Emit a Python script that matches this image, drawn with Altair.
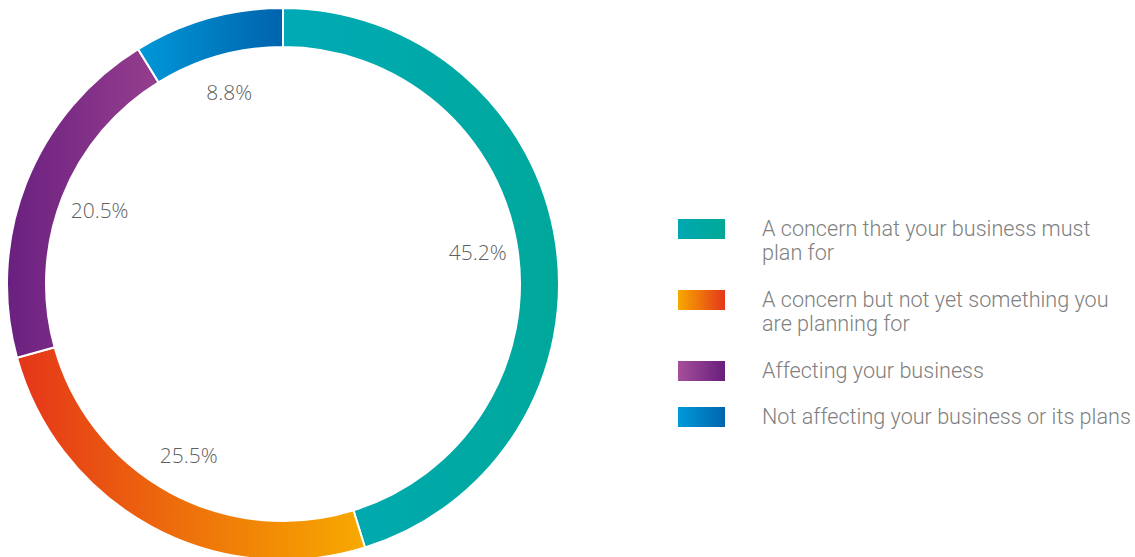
import altair as alt
import pandas as pd
import numpy as np

categories = [
    "A concern that your business must plan for",
    "A concern but not yet something you are planning for",
    "Affecting your business",
    "Not affecting your business or its plans",
]
legend_labels = [
    "A concern that your business must\nplan for",
    "A concern but not yet something you\nare planning for",
    "Affecting your business",
    "Not affecting your business or its plans",
]
values = [45.2, 25.5, 20.5, 8.8]
value_labels = ["45.2%", "25.5%", "20.5%", "8.8%"]

ring_gradients = [
    [("#00AAB6", 0), ("#00A89B", 1)],
    [("#E5351A", 0), ("#EE720A", 0.5), ("#F7AA00", 1)],
    [("#6A2080", 0), ("#963E8E", 1)],
    [("#0098D8", 0), ("#0063AD", 1)],
]
legend_gradients = [
    [("#00A8B2", 0), ("#00A896", 1)],
    [("#F7A900", 0), ("#E5361A", 1)],
    [("#A64F9B", 0), ("#681E7C", 1)],
    [("#0099D9", 0), ("#0065AE", 1)],
]


def grad(stops):
    return {
        "gradient": "linear", "x1": 0, "y1": 0, "x2": 1, "y2": 0,
        "stops": [{"offset": o, "color": c} for c, o in stops],
    }


v = np.array(values)
v1 = np.cumsum(v)
v0 = v1 - v
nlines = [len(s.split("\n")) for s in legend_labels]
extra_before = np.concatenate([[0], np.cumsum([n - 1 for n in nlines])[:-1]])
ROW0, ROW_GAP, LINE_H = 219, 46, 25
row_top = [ROW0 + ROW_GAP * i + LINE_H * e for i, e in enumerate(extra_before)]

df = pd.DataFrame({
    "category": categories,
    "legend": legend_labels,
    "value": values,
    "label": value_labels,
    "v0": v0,
    "v1": v1,
    "mid": (v0 + v1) / 2,
    "top": row_top,
    "bottom": [t + 20 for t in row_top],
    "base": [t + 17 for t in row_top],
})

CX, CY = 283, 284
theta_scale = alt.Scale(domain=[0, 100])

base = alt.Chart(df)

layers = []
for i, cat in enumerate(categories):
    layers.append(
        base.transform_filter(alt.datum.category == cat)
        .mark_arc(outerRadius=276, innerRadius=237, fill=grad(ring_gradients[i]),
                  stroke="white", strokeWidth=2)
        .encode(
            theta=alt.Theta("v0:Q", scale=theta_scale),
            theta2="v1:Q",
            x=alt.value(CX), y=alt.value(CY),
        )
    )

labels = base.mark_text(
    radius=197, fontSize=21, font="Open Sans", fontWeight=300,
    color="#606060", align="center", baseline="middle",
).encode(
    theta=alt.Theta("mid:Q", scale=theta_scale),
    text="label:N",
    x=alt.value(CX), y=alt.value(CY),
)
layers.append(labels)

for i, cat in enumerate(categories):
    layers.append(
        base.transform_filter(alt.datum.category == cat)
        .mark_rect(fill=grad(legend_gradients[i]))
        .encode(
            x=alt.value(678), x2=alt.value(725),
            y=alt.Y("top:Q", scale=None), y2="bottom:Q",
        )
    )

layers.append(
    base.mark_text(
        align="left", baseline="alphabetic", fontSize=21.6, font="Roboto",
        fontWeight=300, color="#808080", lineBreak="\n", lineHeight=24,
    ).encode(
        x=alt.value(762),
        y=alt.Y("base:Q", scale=None),
        text="legend:N",
    )
)

chart = alt.layer(*layers).properties(
    width=1135, height=557, padding=0, autosize="none",
).configure_view(stroke=None)

chart.save("out.html", embed_options={"renderer": "svg", "actions": False})
